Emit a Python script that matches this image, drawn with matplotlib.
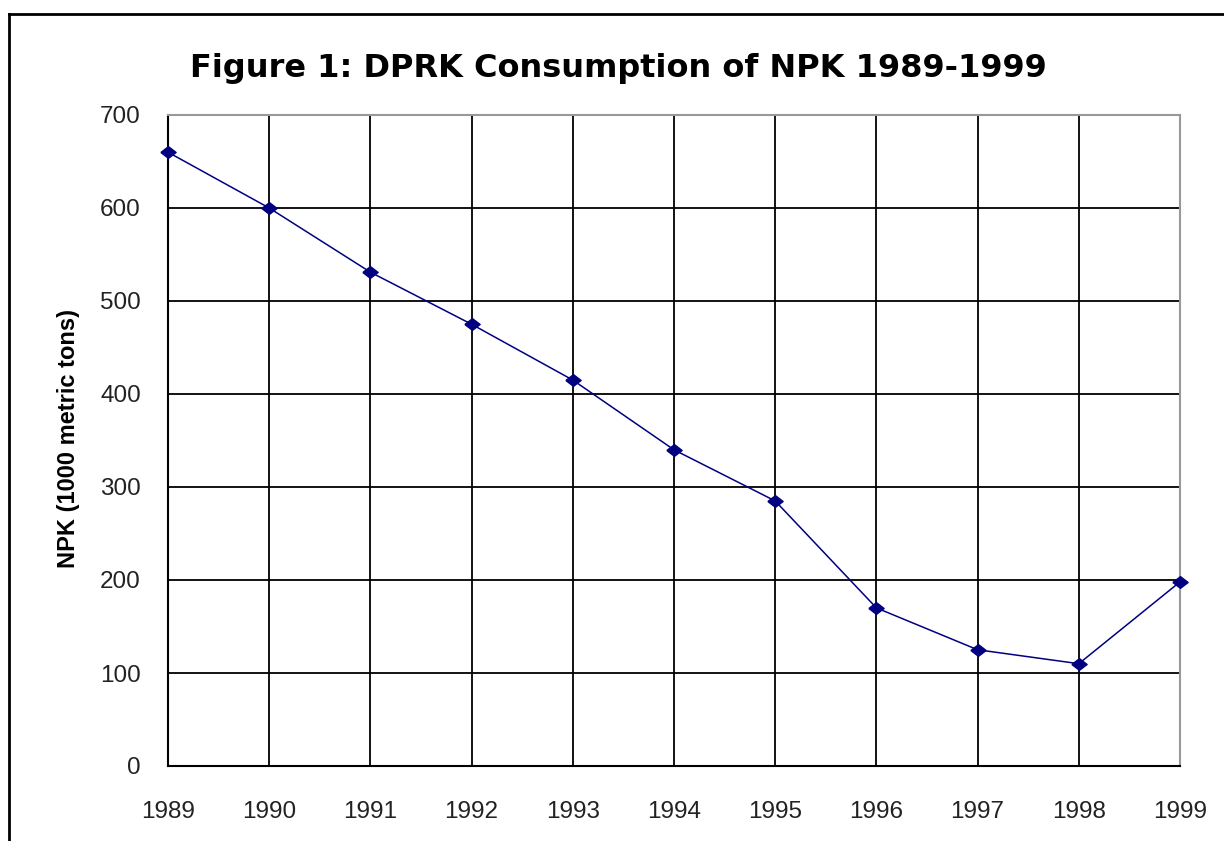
import matplotlib
matplotlib.use("Agg")
import matplotlib.pyplot as plt
from matplotlib.lines import Line2D

years = [1989, 1990, 1991, 1992, 1993, 1994, 1995, 1996, 1997, 1998, 1999]
npk = [660, 600, 531, 475, 415, 340, 285, 170, 125, 110, 198]
yticks = [0, 100, 200, 300, 400, 500, 600, 700]
title = "Figure 1: DPRK Consumption of NPK 1989-1999"
ylabel = "NPK (1000 metric tons)"

plt.rcParams['font.family'] = ['Liberation Sans', 'DejaVu Sans']

W, H = 1224, 841
fig = plt.figure(figsize=(W / 100, H / 100), dpi=100)
ax = fig.add_axes([168 / W, 1 - 766 / H, (1180 - 168) / W, (766 - 115) / H])

diamond = [(-1, 0), (0, 0.77), (1, 0), (0, -0.77), (-1, 0)]
ax.plot(years, npk, color='#000080', lw=1.1, marker=diamond, markersize=11,
        markerfacecolor='#000080', markeredgecolor='#000080', zorder=5, clip_on=False)

ax.set_xlim(years[0], years[-1])
ax.set_ylim(0, 700)
ax.set_xticks(years)
ax.set_xticklabels([str(y) for y in years])
ax.set_yticks(yticks)
ax.tick_params(axis='both', length=0, labelsize=17.5, colors='#222222')
ax.tick_params(axis='y', pad=19.5)
ax.tick_params(axis='x', pad=25.5)
ax.grid(True, color='black', lw=1.3)
ax.set_axisbelow(True)
for s in ['top', 'right']:
    ax.spines[s].set_color('#999999')
    ax.spines[s].set_linewidth(1.5)
for s in ['left', 'bottom']:
    ax.spines[s].set_color('black')
    ax.spines[s].set_linewidth(1.5)

fig.text(68 / W, 1 - 439 / H, ylabel, fontsize=17, fontweight='bold',
         rotation=90, ha='center', va='center')
fig.text(618 / W, 1 - 69 / H, title, fontsize=23, fontweight='bold',
         family='DejaVu Sans', ha='center', va='center')

# figure border (top and left visible)
fig.add_artist(Line2D([9 / W, 1.0], [1 - 14 / H, 1 - 14 / H], color='black', lw=2,
                      transform=fig.transFigure))
fig.add_artist(Line2D([9 / W, 9 / W], [0.0, 1 - 14 / H], color='black', lw=2,
                      transform=fig.transFigure))

fig.savefig("out.png", dpi=100)
